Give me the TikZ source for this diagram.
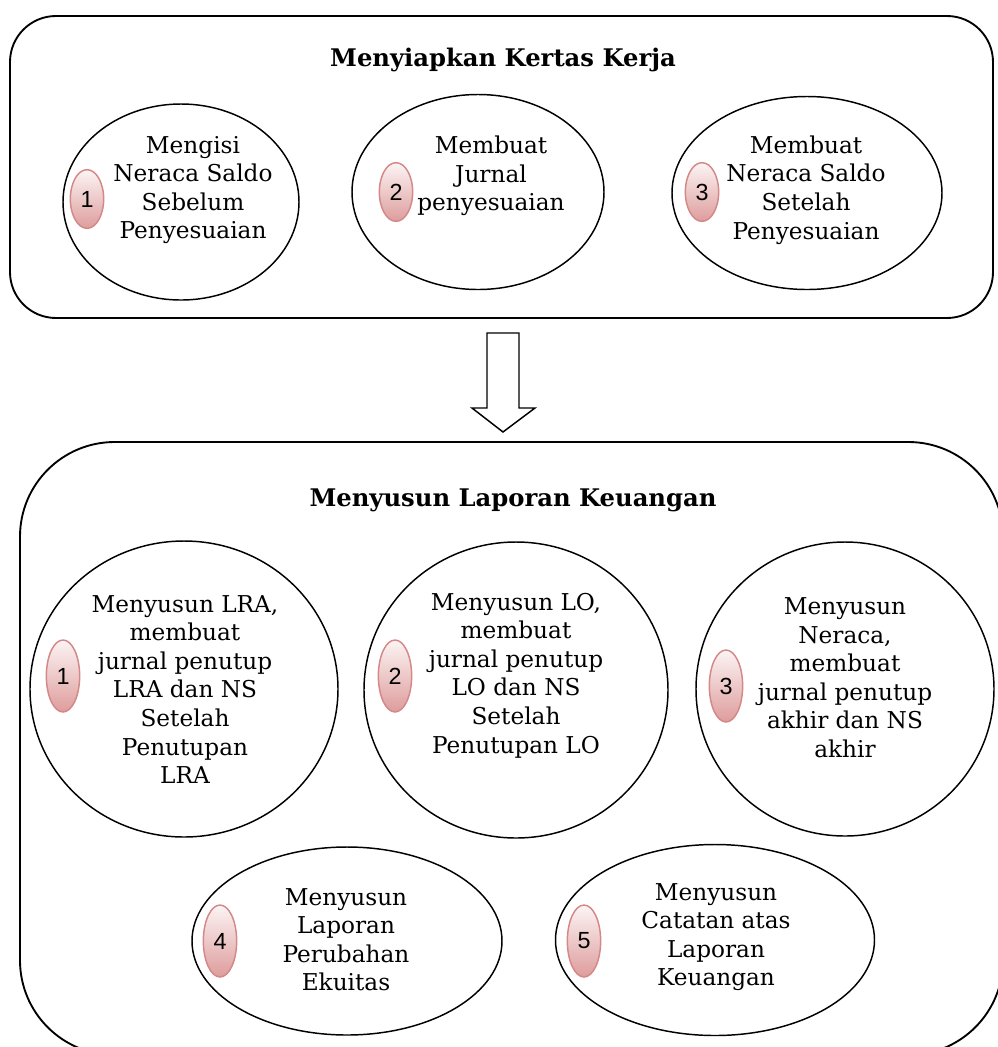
\documentclass[tikz,border=0pt]{standalone}
\usepackage{fontspec}
\setmainfont{DejaVu Serif}
\newfontfamily\numfont{Liberation Sans}
\usetikzlibrary{shapes.geometric}
\definecolor{badgeedge}{RGB}{212,136,136}
\definecolor{badgelow}{RGB}{222,156,156}
\definecolor{badgehigh}{RGB}{252,244,244}
\begin{document}
\begin{tikzpicture}[x=0.75pt,y=-0.75pt,
  frame/.style={draw, line width=1.4pt, inner sep=0pt},
  ell/.style={draw, ellipse, line width=1.1pt, inner sep=0pt},
  txt/.style={align=center, inner sep=0pt, font=\fontsize{17.4}{21.4}\selectfont},
  ttl/.style={inner sep=0pt, font=\fontsize{18.2}{22}\selectfont\bfseries},
  badge/.style={ellipse, draw=badgeedge, line width=1.1pt, inner sep=0pt,
    top color=badgehigh, bottom color=badgelow,
    minimum width=25pt, minimum height=#1, font=\numfont\fontsize{17.5}{20}\selectfont},
  badge/.default=44pt
]
\useasboundingbox (0,0) rectangle (998,1047);
\clip (0,0) rectangle (998,1047);

% top frame
\node[frame, rounded corners=34.5pt, minimum width={983*0.75pt}, minimum height={302*0.75pt}] (kertas) at (501.5,167) {};
\node[ttl] (t1) at (503,60) {Menyiapkan Kertas Kerja};

\node[ell, minimum width={236*0.75pt}, minimum height={196*0.75pt}] (a1) at (181,202) {};
\node[ell, minimum width={252*0.75pt}, minimum height={195*0.75pt}] (a2) at (478,192) {};
\node[ell, minimum width={270*0.75pt}, minimum height={193*0.75pt}] (a3) at (807,193) {};

\node[txt] (ta1) at (193,190) {Mengisi\\Neraca Saldo\\Sebelum\\Penyesuaian};
\node[txt] (ta2) at (491,176) {Membuat\\Jurnal\\penyesuaian};
\node[txt] (ta3) at (806,190) {Membuat\\Neraca Saldo\\Setelah\\Penyesuaian};

\node[badge] (b1) at (87,199) {1};
\node[badge] (b2) at (396,192) {2};
\node[badge] (b3) at (702,192) {3};

% block arrow
\draw[line width=1.1pt, fill=white] (487,333) -- (519,333) -- (519,408) -- (535,408)
  -- (503,432) -- (472,408) -- (487,408) -- cycle;

% bottom frame
\node[frame, rounded corners=71pt, minimum width={983*0.75pt}, minimum height={613*0.75pt}] (lapor) at (511.5,748.5) {};
\node[ttl] (t2) at (513,500) {Menyusun Laporan Keuangan};

\node[ell, minimum width={308*0.75pt}, minimum height={296*0.75pt}] (c1) at (184,689) {};
\node[ell, minimum width={304*0.75pt}, minimum height={296*0.75pt}] (c2) at (516,690) {};
\node[ell, minimum width={298*0.75pt}, minimum height={294*0.75pt}] (c3) at (845,689) {};
\node[ell, minimum width={310*0.75pt}, minimum height={188*0.75pt}] (c4) at (347,941) {};
\node[ell, minimum width={319*0.75pt}, minimum height={191*0.75pt}] (c5) at (715,940) {};

\node[txt] (tc1) at (185,689.5) {Menyusun LRA,\\membuat\\jurnal penutup\\LRA dan NS\\Setelah\\Penutupan\\LRA};
\node[txt] (tc2) at (516,675.5) {Menyusun LO,\\membuat\\jurnal penutup\\LO dan NS\\Setelah\\Penutupan LO};
\node[txt] (tc3) at (845,677.5) {Menyusun\\Neraca,\\membuat\\jurnal penutup\\akhir dan NS\\akhir};
\node[txt] (tc4) at (346,939.5) {Menyusun\\Laporan\\Perubahan\\Ekuitas};
\node[txt] (tc5) at (716,937) {Menyusun\\Catatan atas\\Laporan\\Keuangan};

\node[badge=54pt] (d1) at (63,676) {1};
\node[badge=54pt] (d2) at (395,676) {2};
\node[badge=54pt] (d3) at (726,686) {3};
\node[badge=54pt] (d4) at (220,941) {4};
\node[badge=54pt] (d5) at (584,941) {5};
\end{tikzpicture}
\end{document}
